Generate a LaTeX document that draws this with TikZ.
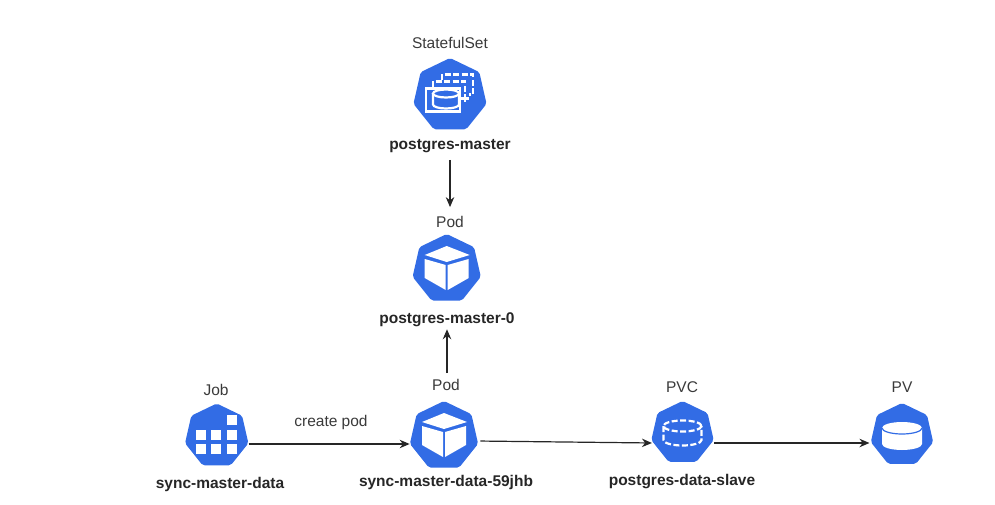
\documentclass[tikz,border=0pt]{standalone}
\usepackage{fontspec}
\setmainfont{Liberation Sans}
\usetikzlibrary{arrows.meta,shapes.geometric}
\definecolor{kubeblue}{HTML}{326CE5}
\definecolor{inktext}{HTML}{3A3A3A}
\tikzset{
    hept/.style = {regular polygon, regular polygon sides = 7, fill = kubeblue, minimum size = #1, inner sep = 0pt, outer sep = 0pt, rounded corners = 2pt},
    kindlabel/.style = {text = inktext, font = \fontsize{15.5}{18}\selectfont, inner sep = 1pt},
    namelabel/.style = {text = black!85, font = \fontsize{15.5}{18}\selectfont\bfseries, inner sep = 1pt},
    flow/.style = {draw = black!85, line width = 1.2pt, -{Stealth[length = 10pt, width = 8.5pt]}},
    whitedash/.style = {draw = white, line width = 2.2pt, dash pattern = on 6pt off 2.5pt},
    whiteline/.style = {draw = white, line width = 2.2pt},
    podicon/.pic = {
        \fill[white] (-22,-14) -- (0,-23) -- (23,-14) -- (0,-7) -- cycle;
        \fill[white] (-22,-10) -- (-1,-4) -- (-1,21) -- (-22,9) -- cycle;
        \fill[white] (22,-10) -- (1,-4) -- (1,21) -- (22,9) -- cycle;
    },
    jobicon/.pic = {
        \foreach \i in {-16,-1,15}{
        \foreach \j in {-1,13}{
        \fill[white] (\i-5,\j-5) rectangle (\i+5,\j+5);
        }
        }
        \fill[white] (10,-21) rectangle (20,-11);
    },
    pvcicon/.pic = {
        \draw[whitedash] (0,-7) ellipse [x radius = 19, y radius = 5.5];
        \draw[whitedash] (-19,-7) -- (-19,7) arc [start angle = 180, end angle = 0, x radius = 19, y radius = 5.5] -- (19,-7);
    },
    pvicon/.pic = {
        \fill[white] (-20,-7) -- (-20,9) arc [start angle = 180, end angle = 0, x radius = 20, y radius = 6] -- (20,-7) arc [start angle = 0, end angle = -180, x radius = 20, y radius = 6] -- cycle;
        \draw[kubeblue, line width = 1.2pt] (-20,-7) arc [start angle = 180, end angle = 0, x radius = 20, y radius = 6];
    },
    setsicon/.pic = {
        \draw[whitedash] (-8,-15) -- (-8,-21) -- (23,-21) -- (23,-1) -- (19,-1);
        \draw[whitedash] (-17,-8) -- (-17,-14) -- (15,-14) -- (15,-3);
        \draw[whiteline] (15,-1) -- (15,7) (11,3) -- (19,3);
        \fill[kubeblue] (-24,-7) rectangle (10,16);
        \draw[whiteline] (-24,-7) rectangle (10,16);
        \draw[whiteline] (-4,-2) ellipse [x radius = 13, y radius = 4];
        \draw[whiteline] (-17,-2) -- (-17,9) arc [start angle = 180, end angle = 0, x radius = 13, y radius = 4] -- (9,-2);
    }
}
\begin{document}
\begin{tikzpicture}[x = 1pt, y = -1pt]
        \useasboundingbox (0,0) rectangle (995,505);
        \node[hept = 75pt] (sets) at (450,95.5) {};
        \node[hept = 70pt] (podtop) at (446.7,269) {};
        \node[hept = 65pt] (job) at (216.7,436) {};
        \node[hept = 70pt] (podsync) at (444,436) {};
        \node[hept = 64pt] (pvc) at (682.5,433) {};
        \node[hept = 64pt] (pv) at (902,435) {};
        \pic at (sets) {setsicon};
        \pic at (podtop) {podicon};
        \pic at (job) {jobicon};
        \pic at (podsync) {podicon};
        \pic at (pvc) {pvcicon};
        \pic at (pv) {pvicon};
        \node[kindlabel] (setskind) at (450,43) {StatefulSet};
        \node[namelabel] (setsname) at (450,146) {postgres-master};
        \node[kindlabel] (podtopkind) at (450,222) {Pod};
        \node[namelabel] (podtopname) at (447,320) {postgres-master-0};
        \node[kindlabel] (jobkind) at (216,390) {Job};
        \node[namelabel] (jobname) at (220,484) {sync-master-data};
        \node[kindlabel] (podsynckind) at (446,385) {Pod};
        \node[namelabel] (podsyncname) at (446,482) {sync-master-data-59jhb};
        \node[kindlabel] (pvckind) at (682,387) {PVC};
        \node[namelabel] (pvcname) at (682,482) {postgres-data-slave};
        \node[kindlabel] (pvkind) at (902,387) {PV};
        \node[kindlabel] (createlabel) at (331,422) {create pod};
        \draw[flow, shorten <= 6pt, shorten >= 8pt] (setsname) -- (podtopkind);
        \draw[flow, shorten <= 5pt, shorten >= 1pt] (podsynckind.north -| podtopname) -- (podtopname);
        \draw[flow] ([xshift = 2pt, yshift = -8pt]job.east) -- ([xshift = -2pt, yshift = -8pt]podsync.west);
        \draw[flow, shorten <= 4pt, shorten >= 1pt] ([yshift = -5pt]podsync.east) -- ([yshift = -10pt]pvc.west);
        \draw[flow, shorten <= 2pt, shorten >= 3pt] ([yshift = -10pt]pvc.east) -- ([yshift = -8pt]pv.west);
    \end{tikzpicture}
\end{document}
